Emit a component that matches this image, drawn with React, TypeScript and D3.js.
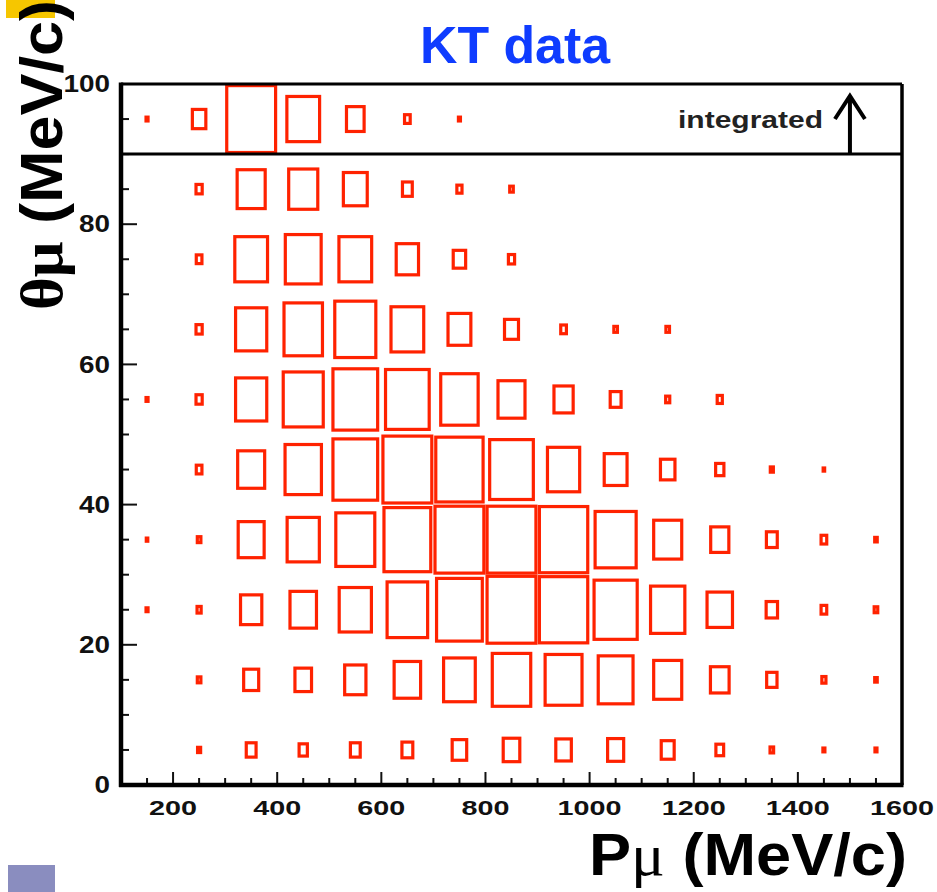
import * as d3 from 'd3';
import { useEffect, useRef } from 'react';

// momentum bin centres (MeV/c) and angle bin centres (deg)
const pBins = [150, 250, 350, 450, 550, 650, 750, 850, 950, 1050, 1150, 1250, 1350, 1450, 1550];
const thetaBins = [5, 15, 25, 35, 45, 55, 65, 75, 85, 95];

// bin content, % of the largest bin, one list per theta row
const row5 = [0, 12, 25, 22, 25, 27, 34, 38, 36, 37, 31, 21, 13, 10, 10];
const row15 = [0, 13, 35, 38, 47, 57, 67, 80, 77, 73, 60, 42, 26, 14, 11];
const row25 = [10, 14, 47, 57, 68, 84, 94, 100, 99, 89, 72, 55, 28, 17, 13];
const row35 = [9, 13, 56, 68, 81, 96, 100, 100, 99, 85, 60, 41, 27, 17, 11];
const row45 = [0, 17, 58, 76, 92, 100, 97, 90, 68, 50, 34, 22, 12, 9, 0];
const row55 = [10, 18, 66, 83, 92, 90, 78, 58, 43, 27, 14, 16, 0, 0, 0];
const row65 = [0, 18, 66, 80, 85, 69, 50, 33, 17, 13, 13, 0, 0, 0, 0];
const row75 = [0, 17, 69, 75, 69, 49, 30, 18, 0, 0, 0, 0, 0, 0, 0];
const row85 = [0, 18, 60, 62, 52, 25, 16, 13, 0, 0, 0, 0, 0, 0, 0];
const row95 = [10, 32, 100, 69, 40, 17, 10, 0, 0, 0, 0, 0, 0, 0, 0]; // integrated

const rows = [row5, row15, row25, row35, row45, row55, row65, row75, row85, row95];

const xTickLabels = ['200', '400', '600', '800', '1000', '1200', '1400', '1600'];
const yTickLabels = ['0', '20', '40', '60', '80', '100'];

const W = 937;
const H = 892;

const App = () => {
  const ref = useRef<SVGSVGElement>(null);

  useEffect(() => {
    const svg = d3.select(ref.current);
    svg.selectAll('*').remove();

    const x = d3.scaleLinear().domain([100, 1600]).range([121, 902]);
    const y = d3.scaleLinear().domain([0, 100]).range([785, 84]);
    const size = d3.scaleLinear().domain([0, 100]).range([0, 1]);
    const bw = x(200) - x(100);
    const bh = y(0) - y(10);
    const sw = 3.2;
    const font = '"Liberation Sans", Arial, sans-serif';

    // slide decorations
    svg.append('rect').attr('x', 6).attr('y', 0).attr('width', 49).attr('height', 18).attr('fill', '#f6c600');
    svg.append('rect').attr('x', 8).attr('y', 865).attr('width', 47).attr('height', 27).attr('fill', '#8a8dbf');

    const cells = thetaBins
      .flatMap((t, i) => pBins.map((p, j) => ({ p, t, v: rows[i][j] })))
      .filter((d) => d.v > 0);

    svg
      .append('g')
      .selectAll('rect')
      .data(cells)
      .join('rect')
      .attr('x', (d) => x(d.p) - (bw * size(d.v)) / 2 + sw / 2)
      .attr('y', (d) => y(d.t) - (bh * size(d.v)) / 2 + sw / 2)
      .attr('width', (d) => Math.max(bw * size(d.v) - sw, 0.5))
      .attr('height', (d) => Math.max(bh * size(d.v) - sw, 0.5))
      .attr('fill', 'none')
      .attr('stroke', '#ff2200')
      .attr('stroke-width', sw);

    // ticks, pointing inward
    const ticks = svg.append('g').attr('class', 'ticks');
    d3.range(150, 1600, 50).forEach((v) => {
      ticks
        .append('line')
        .attr('x1', x(v))
        .attr('x2', x(v))
        .attr('y1', y(0))
        .attr('y2', y(0) - (v % 200 === 0 ? 13 : 7))
        .attr('stroke', '#111')
        .attr('stroke-width', 2);
    });
    d3.range(5, 100, 5).forEach((v) => {
      ticks
        .append('line')
        .attr('x1', x(100))
        .attr('x2', x(100) + (v % 20 === 0 ? 16 : 8))
        .attr('y1', y(v))
        .attr('y2', y(v))
        .attr('stroke', '#111')
        .attr('stroke-width', 2);
    });

    // frame
    const g = svg.append('g').attr('stroke', '#000').attr('fill', 'none');
    g.append('line').attr('x1', x(100)).attr('x2', x(1600)).attr('y1', y(100)).attr('y2', y(100)).attr('stroke-width', 3);
    g.append('line').attr('x1', x(1600)).attr('x2', x(1600)).attr('y1', y(100)).attr('y2', y(0)).attr('stroke-width', 3.5);
    g.append('line').attr('x1', x(100)).attr('x2', x(1600)).attr('y1', y(90)).attr('y2', y(90)).attr('stroke-width', 3);
    g.append('line').attr('x1', x(100)).attr('x2', x(100)).attr('y1', y(100) - 1.5).attr('y2', y(0) + 2).attr('stroke-width', 4.5);
    g.append('line').attr('x1', x(100) - 2).attr('x2', x(1600) + 1.5).attr('y1', y(0)).attr('y2', y(0)).attr('stroke-width', 4.5);

    // tick labels
    svg
      .append('g')
      .selectAll('text')
      .data(xTickLabels)
      .join('text')
      .attr('x', (d) => x(+d))
      .attr('y', 815)
      .attr('text-anchor', 'middle')
      .attr('font-family', font)
      .attr('font-weight', 'bold')
      .attr('font-size', 21)
      .attr('textLength', (d) => d.length * 16)
      .attr('lengthAdjust', 'spacingAndGlyphs')
      .attr('fill', '#111')
      .text((d) => d);

    svg
      .append('g')
      .selectAll('text')
      .data(yTickLabels)
      .join('text')
      .attr('x', 110)
      .attr('y', (d) => y(+d))
      .attr('dy', '0.36em')
      .attr('text-anchor', 'end')
      .attr('font-family', font)
      .attr('font-weight', 'bold')
      .attr('font-size', 23)
      .attr('textLength', (d) => d.length * 15.5)
      .attr('lengthAdjust', 'spacingAndGlyphs')
      .attr('fill', '#111')
      .text((d) => d);

    // integrated annotation
    svg
      .append('text')
      .attr('x', 678)
      .attr('y', 128)
      .attr('font-family', font)
      .attr('font-weight', 'bold')
      .attr('font-size', 23)
      .attr('textLength', 145)
      .attr('lengthAdjust', 'spacingAndGlyphs')
      .attr('fill', '#222')
      .text('integrated');
    const ax = x(1500);
    const arrow = svg.append('g').attr('stroke', '#000').attr('stroke-width', 4).attr('fill', 'none');
    arrow.append('line').attr('x1', ax).attr('x2', ax).attr('y1', y(90)).attr('y2', 96);
    arrow
      .append('path')
      .attr('d', `M${ax - 15},119 L${ax},96 L${ax + 15},119`)
      .attr('stroke-linejoin', 'miter');

    // title
    svg
      .append('text')
      .attr('x', 515)
      .attr('y', 63)
      .attr('text-anchor', 'middle')
      .attr('font-family', font)
      .attr('font-weight', 'bold')
      .attr('font-size', 52)
      .attr('textLength', 190)
      .attr('lengthAdjust', 'spacingAndGlyphs')
      .attr('fill', '#0f3cff')
      .text('KT data');

    // axis titles
    const xt = svg
      .append('text')
      .attr('x', 589)
      .attr('y', 875)
      .attr('font-family', font)
      .attr('font-weight', 'bold')
      .attr('font-size', 60)
      .attr('textLength', 318)
      .attr('lengthAdjust', 'spacingAndGlyphs')
      .attr('fill', '#000');
    xt.append('tspan').text('P');
    xt.append('tspan').attr('font-family', '"Liberation Serif", serif').attr('font-weight', 'normal').text('μ');
    xt.append('tspan').text(' (MeV/c)');

    const yt = svg
      .append('text')
      .attr('transform', 'translate(62,155) rotate(-90)')
      .attr('text-anchor', 'middle')
      .attr('font-family', font)
      .attr('font-weight', 'bold')
      .attr('font-size', 60)
      .attr('textLength', 310)
      .attr('lengthAdjust', 'spacingAndGlyphs')
      .attr('fill', '#000');
    yt.append('tspan').attr('font-family', '"Liberation Serif", serif').text('θμ');
    yt.append('tspan').text(' (MeV/c)');
  }, []);

  return (
    <svg
      ref={ref}
      width={W}
      height={H}
      style={{ position: 'absolute', left: 0, top: 0, background: '#fff' }}
    ></svg>
  );
};

export default App;
